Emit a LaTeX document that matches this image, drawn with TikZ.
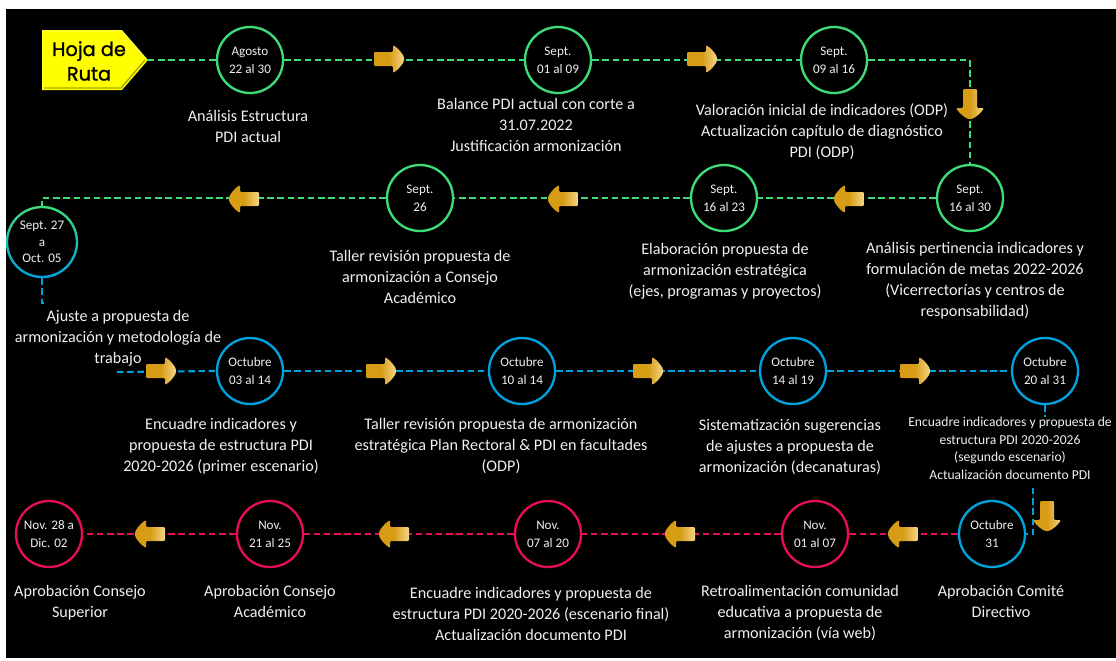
\documentclass[tikz,border=0pt]{standalone}
\usepackage{fontspec}
\setmainfont{Carlito}
\newfontfamily\tagfont{Poppins}[FakeBold=1.2]
\definecolor{gr}{RGB}{62,220,120}
\definecolor{bl}{RGB}{0,162,222}
\definecolor{pk}{RGB}{232,12,92}
\definecolor{gd}{RGB}{214,156,22}
\definecolor{gdl}{RGB}{246,214,135}
\definecolor{tx}{RGB}{240,240,240}
\definecolor{yel}{RGB}{255,255,0}
\definecolor{yeld}{RGB}{170,170,0}
\tikzset{
  stop/.style={circle, line width=2pt, minimum size=1.98cm, inner sep=0pt, text=tx,
    font=\fontsize{11.2}{15.2}\selectfont, align=center},
  gstop/.style={stop, draw=gr},
  bstop/.style={stop, draw=bl},
  pstop/.style={stop, draw=pk},
  desc/.style={anchor=north, inner sep=0pt, align=center, text=tx, font=\fontsize{13.8}{17.9}\selectfont},
  sdesc/.style={anchor=north, inner sep=0pt, align=center, text=tx, font=\fontsize{11.6}{15}\selectfont},
  link/.style={line width=1.8pt, dash pattern=on 5.5pt off 3.2pt},
  glink/.style={link, draw=gr},
  blink/.style={link, draw=bl},
  plink/.style={link, draw=pk},
  garrow/.pic={
    \shade[left color=gd, right color=gdl, middle color=gd, rounded corners=1pt]
      (-15,-7) -- (4,-7) -- (4,-14) .. controls (9,-11) and (15,-4) .. (15,0)
      .. controls (15,4) and (9,11) .. (4,14) -- (4,7) -- (-15,7) -- cycle;
  }
}
\begin{document}
\begin{tikzpicture}[x=0.03cm,y=-0.03cm]
\useasboundingbox (0,0) rectangle (1116,660);
\fill[white] (0,0) rectangle (1116,660);
\fill[black] (6,9) rectangle (1116,658);

% tag
\fill[yel] (42,30) -- (122,30) -- (148,60) -- (122,90) -- (42,90) -- cycle;
\draw[yeld, line width=1.2pt] (44,88) -- (121,88) -- (145,60);
\draw[yel!60!white, line width=0.8pt] (43,88) -- (43,31) -- (121,31) -- (146,59);
\node[font=\tagfont\fontsize{16.5}{21}\selectfont, text=black, align=center, inner sep=0pt] (tag) at (89,61) {Hoja de\\Ruta};
\coordinate (tagtip) at (148,60);

% stops
\node[gstop] (c1) at (250,60) {Agosto\\22 al 30};
\node[gstop] (c2) at (558,60) {Sept.\\01 al 09};
\node[gstop] (c3) at (834,60) {Sept.\\09 al 16};
\node[gstop] (c4) at (970,198) {Sept.\\16 al 30};
\node[gstop] (c5) at (724,198) {Sept.\\16 al 23};
\node[gstop] (c6) at (420,198) {Sept.\\26};
\node[stop, minimum size=2.1cm, font=\fontsize{11.2}{14}\selectfont] (c7) at (42,242) {Sept. 27\\a\\Oct. 05};
\foreach \a in {0,5,...,355}{
  \pgfmathsetmacro\p{50-50*sin(\a+2.5)}
  \draw[draw=gr!\p!bl, line width=2pt] (c7.center) ++(\a:35) arc[start angle=\a, end angle=\a+5.6, radius=35];
}
\node[bstop] (c8) at (250,371) {Octubre\\03 al 14};
\node[bstop] (c9) at (522,371) {Octubre\\10 al 14};
\node[bstop] (c10) at (793,371) {Octubre\\14 al 19};
\node[bstop] (c11) at (1045,371) {Octubre\\20 al 31};
\node[bstop] (c12) at (992,534) {Octubre\\31};
\node[pstop] (c13) at (815,534) {Nov.\\01 al 07};
\node[pstop] (c14) at (548,534) {Nov.\\07 al 20};
\node[pstop] (c15) at (270,534) {Nov.\\21 al 25};
\node[pstop] (c16) at (49,534) {Nov. 28 a\\Dic. 02};

% descriptions
\node[desc] (d1) at (248,110) {Análisis Estructura\\PDI actual};
\node[desc] (d2) at (536,98) {Balance PDI actual con corte a\\31.07.2022\\Justificación armonización};
\node[desc] (d3) at (822,103) {Valoración inicial de indicadores (ODP)\\Actualización capítulo de diagnóstico\\PDI (ODP)};
\node[desc] (d4) at (975,242) {Análisis pertinencia indicadores y\\formulación de metas 2022-2026\\(Vicerrectorías y centros de\\responsabilidad)};
\node[desc] (d5) at (725,243) {Elaboración propuesta de\\armonización estratégica\\(ejes, programas y proyectos)};
\node[desc] (d6) at (420,250) {Taller revisión propuesta de\\armonización a Consejo\\Académico};
\node[desc] (d7) at (118,310) {Ajuste a propuesta de\\armonización y metodología de\\trabajo};
\node[desc] (d8) at (221,418) {Encuadre indicadores y\\propuesta de estructura PDI\\2020-2026 (primer escenario)};
\node[desc] (d9) at (501,418) {Taller revisión propuesta de armonización\\estratégica Plan Rectoral \& PDI en facultades\\(ODP)};
\node[desc] (d10) at (790,419) {Sistematización sugerencias\\de ajustes a propuesta de\\armonización (decanaturas)};
\node[sdesc] (d11) at (1010,417) {Encuadre indicadores y propuesta de\\estructura PDI 2020-2026\\(segundo escenario)\\Actualización documento PDI};
\node[desc] (d16) at (80,585) {Aprobación Consejo\\Superior};
\node[desc] (d15) at (270,585) {Aprobación Consejo\\Académico};
\node[desc] (d14) at (531,587) {Encuadre indicadores y propuesta de\\estructura PDI 2020-2026 (escenario final)\\Actualización documento PDI};
\node[desc] (d13) at (800,585) {Retroalimentación comunidad\\educativa a propuesta de\\armonización (vía web)};
\node[desc] (d12) at (1001,585) {Aprobación Comité\\Directivo};

% connectors
\coordinate (s7) at (47,303);
\coordinate (r3) at (117,372);
\coordinate (s12) at (1033,488);
\draw[glink] (tagtip) -- (c1.west);
\draw[glink] (c1.east) -- (c2.west);
\draw[glink] (c2.east) -- (c3.west);
\draw[glink] (c3.east) -| (c4.north);
\draw[glink] (c4.west) -- (c5.east);
\draw[glink] (c5.west) -- (c6.east);
\draw[glink] (c6.west) -| (c7.north);
\draw[blink] (c7.south) |- (s7);
\draw[blink] (r3) -- (c8.west);
\draw[blink] (c8.east) -- (c9.west);
\draw[blink] (c9.east) -- (c10.west);
\draw[blink] (c10.east) -- (c11.west);
\draw[blink] (c11.south) -- (c11.south |- d11.north);
\draw[blink] (s12) |- (c12.east);
\draw[plink] (c12.west) -- (c13.east);
\draw[plink] (c13.west) -- (c14.east);
\draw[plink] (c14.west) -- (c15.east);
\draw[plink] (c15.west) -- (c16.east);

% direction arrows
\pic at (389,59) {garrow};
\pic at (702,59) {garrow};
\pic[rotate=-90] at (970,104) {garrow};
\pic[rotate=180] at (849,199) {garrow};
\pic[rotate=180] at (563,199) {garrow};
\pic[rotate=180] at (244,199) {garrow};
\pic at (161,371) {garrow};
\pic at (381,371) {garrow};
\pic at (648,371) {garrow};
\pic at (915,371) {garrow};
\pic[rotate=-90] at (1047,516) {garrow};
\pic[rotate=180] at (903,534) {garrow};
\pic[rotate=180] at (680,534) {garrow};
\pic[rotate=180] at (394,534) {garrow};
\pic[rotate=180] at (150,534) {garrow};
\end{tikzpicture}
\end{document}
